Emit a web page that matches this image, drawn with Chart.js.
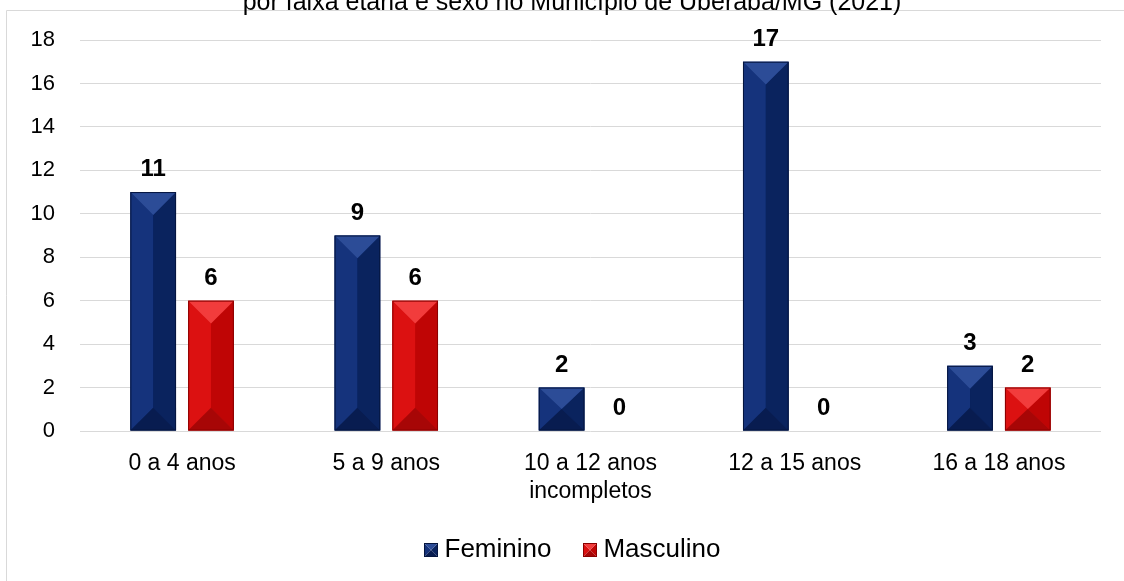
<!DOCTYPE html>
<html>
<head>
<meta charset="utf-8">
<script src="https://cdn.jsdelivr.net/npm/chart.js@4.4.0/dist/chart.umd.min.js"></script>
<style>
  html, body { margin: 0; padding: 0; background: #fff; }
  #wrap { position: relative; width: 1124px; height: 581px; }
</style>
</head>
<body>
<div id="wrap"><canvas id="ageChart" width="1124" height="581"></canvas></div>
<script>
const titleText = 'por faixa etária e sexo no Município de Uberaba/MG (2021)';
const categories = [
    '0 a 4 anos',
    '5 a 9 anos',
    ['10 a 12 anos', 'incompletos'],
    '12 a 15 anos',
    '16 a 18 anos'
];
const feminino = [11, 9, 2, 17, 3];
const masculino = [6, 6, 0, 0, 2];
const yTicks = { min: 0, max: 18, step: 2 };

const FONT = '"Liberation Sans", Arial, sans-serif';

// bevel shades: top, left, right, bottom, edge
const navy = { base: '#0d2a6e', top: '#2c4c97', left: '#15337c', right: '#0a235e', bottom: '#081c50', edge: '#05153f' };
const red = { base: '#d00d0d', top: '#f23c3c', left: '#dc1111', right: '#bf0505', bottom: '#a70606', edge: '#8a0000' };

function bevel(c, x0, y0, x1, y1, s) {
    const w = x1 - x0, h = y1 - y0;
    const d = Math.min(w / 2, h / 2);
    const mx = (x0 + x1) / 2;
    const poly = (pts, col) => {
        c.beginPath();
        c.moveTo(pts[0][0], pts[0][1]);
        for (let i = 1; i < pts.length; i++) c.lineTo(pts[i][0], pts[i][1]);
        c.closePath();
        c.fillStyle = col;
        c.fill();
    };
    poly([[x0, y0], [mx, y0 + d], [mx, y1 - d], [x0, y1]], s.left);
    poly([[x1, y0], [mx, y0 + d], [mx, y1 - d], [x1, y1]], s.right);
    poly([[x0, y0], [x1, y0], [mx, y0 + d]], s.top);
    poly([[x0, y1], [x1, y1], [mx, y1 - d]], s.bottom);
    c.strokeStyle = s.edge;
    c.lineWidth = 1;
    c.strokeRect(x0 + 0.5, y0 + 0.5, w - 1, h - 1);
}

function legendIcon(s) {
    const cv = document.createElement('canvas');
    cv.width = 14; cv.height = 14;
    bevel(cv.getContext('2d'), 0, 0, 14, 14, s);
    return cv;
}

const framePlugin = {
    id: 'frame',
    afterLayout(chart) {
        // nudge the legend to sit where it does in the original
        const lg = chart.legend;
        lg.left += 20;
        lg.right += 20;
        lg.top -= 8;
        lg.bottom -= 8;
    },
    beforeDraw(chart) {
        const c = chart.ctx;
        c.save();
        c.strokeStyle = '#d9d9d9';
        c.lineWidth = 1;
        c.beginPath();
        c.moveTo(6.5, 581);
        c.lineTo(6.5, 10.5);
        c.lineTo(1124, 10.5);
        c.stroke();
        c.fillStyle = '#000';
        c.font = '25px ' + FONT;
        c.textAlign = 'center';
        c.textBaseline = 'alphabetic';
        c.fillText(titleText, 572, 10);
        c.restore();
    }
};

const bevelPlugin = {
    id: 'bevel',
    afterDatasetsDraw(chart) {
        const c = chart.ctx;
        c.save();
        chart.data.datasets.forEach((ds, i) => {
            const s = i === 0 ? navy : red;
            chart.getDatasetMeta(i).data.forEach((bar) => {
                const p = bar.getProps(['x', 'y', 'base', 'width'], true);
                if (p.base - p.y < 1) return;
                bevel(c, p.x - p.width / 2, p.y, p.x + p.width / 2, p.base, s);
            });
        });
        c.restore();
    },
    afterDraw(chart) {
        const c = chart.ctx;
        c.save();
        c.fillStyle = '#000';
        c.font = 'bold 24px ' + FONT;
        c.textAlign = 'center';
        c.textBaseline = 'alphabetic';
        chart.data.datasets.forEach((ds, i) => {
            chart.getDatasetMeta(i).data.forEach((bar, j) => {
                const p = bar.getProps(['x', 'y'], true);
                c.fillText(String(ds.data[j]), p.x, p.y - 16);
            });
        });
        c.restore();
    }
};

new Chart(document.getElementById('ageChart'), {
    type: 'bar',
    data: {
        labels: categories,
        datasets: [
            {
                label: 'Feminino',
                data: feminino,
                backgroundColor: navy.base,
                pointStyle: legendIcon(navy),
                categoryPercentage: 0.566,
                barPercentage: 0.79
            },
            {
                label: 'Masculino',
                data: masculino,
                backgroundColor: red.base,
                pointStyle: legendIcon(red),
                categoryPercentage: 0.566,
                barPercentage: 0.79
            }
        ]
    },
    options: {
        responsive: false,
        animation: false,
        layout: {
            padding: { top: 40, right: 23, left: 10, bottom: 0 }
        },
        plugins: {
            legend: {
                position: 'bottom',
                labels: {
                    usePointStyle: true,
                    pointStyleWidth: 1,
                    color: '#000',
                    font: { family: FONT, size: 26 },
                    padding: 38
                }
            },
            tooltip: { enabled: false }
        },
        scales: {
            x: {
                grid: { display: false },
                border: { display: false },
                ticks: {
                    color: '#000',
                    font: { family: FONT, size: 23 },
                    maxRotation: 0,
                    padding: 11
                },
                afterFit(scale) { scale.height = 76; }
            },
            y: {
                min: yTicks.min,
                max: yTicks.max,
                border: { display: false },
                grid: { color: '#d9d9d9', drawTicks: false },
                ticks: {
                    stepSize: yTicks.step,
                    color: '#000',
                    font: { family: FONT, size: 22 },
                    padding: 25
                },
                afterFit(scale) { scale.width = 70; }
            }
        }
    },
    plugins: [framePlugin, bevelPlugin]
});
</script>
</body>
</html>
